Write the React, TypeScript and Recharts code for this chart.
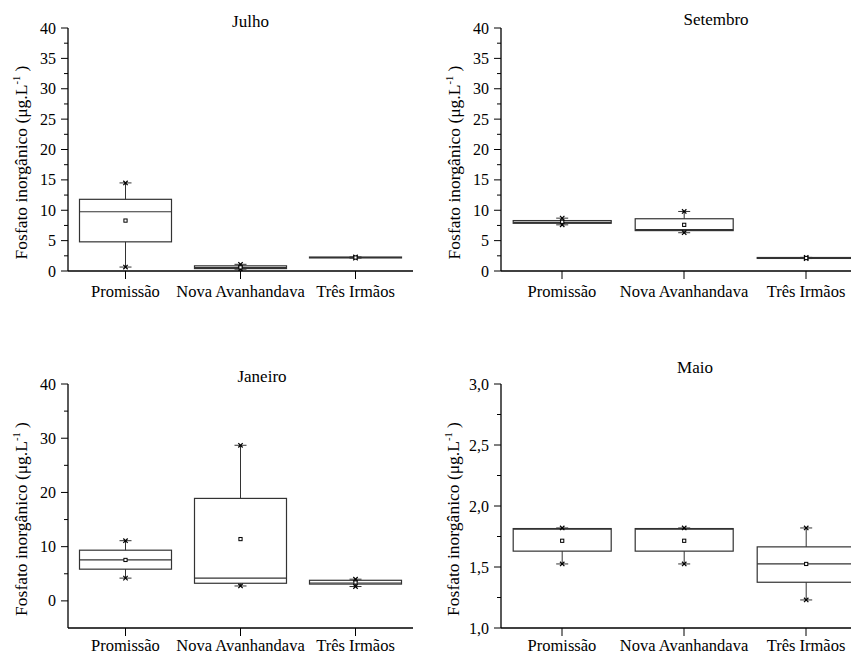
import { ComposedChart, Bar, XAxis, YAxis, Label } from 'recharts'

const FONT = 'Liberation Serif'
const INK = '#000'
const BOX = '#333'

const sites = ['Promissão', 'Nova Avanhandava', 'Três Irmãos']

// Julho
const julhoMin = [0.65, 0.3, 2.12]
const julhoQ1 = [4.8, 0.4, 2.15]
const julhoMedian = [9.75, 0.55, 2.22]
const julhoQ3 = [11.8, 0.85, 2.3]
const julhoMax = [14.5, 1.1, 2.32]
const julhoMean = [8.3, 0.6, 2.22]

// Setembro
const setembroMin = [7.6, 6.3, 2.05]
const setembroQ1 = [7.85, 6.65, 2.07]
const setembroMedian = [8.0, 6.8, 2.14]
const setembroQ3 = [8.3, 8.6, 2.22]
const setembroMax = [8.7, 9.8, 2.24]
const setembroMean = [8.1, 7.6, 2.14]

// Janeiro
const janeiroMin = [4.2, 2.75, 2.65]
const janeiroQ1 = [5.85, 3.25, 3.1]
const janeiroMedian = [7.55, 4.2, 3.3]
const janeiroQ3 = [9.35, 18.9, 3.8]
const janeiroMax = [11.1, 28.7, 4.0]
const janeiroMean = [7.55, 11.4, 3.4]

// Maio
const maioMin = [1.525, 1.525, 1.23]
const maioQ1 = [1.63, 1.63, 1.375]
const maioMedian = [1.81, 1.81, 1.525]
const maioQ3 = [1.815, 1.815, 1.665]
const maioMax = [1.82, 1.82, 1.82]
const maioMean = [1.715, 1.715, 1.525]

const ticks40 = [0, 2.5, 5, 7.5, 10, 12.5, 15, 17.5, 20, 22.5, 25, 27.5, 30, 32.5, 35, 37.5, 40]
const ticksJan = [0, 5, 10, 15, 20, 25, 30, 35, 40]
const ticksMaio = [1, 1.25, 1.5, 1.75, 2, 2.25, 2.5, 2.75, 3]

function rows(min: number[], q1: number[], median: number[], q3: number[], max: number[], mean: number[]) {
  return sites.map((site, i) => ({
    site,
    range: [min[i], max[i]],
    min: min[i],
    q1: q1[i],
    median: median[i],
    q3: q3[i],
    max: max[i],
    mean: mean[i],
  }))
}

function BoxShape(props: any) {
  const { x, y, width, height, payload } = props
  const { min, q1, median, q3, max, mean } = payload
  const span = max - min
  const py = (v: number) => (span === 0 ? y : y + ((max - v) / span) * height)
  const cx = x + width / 2
  const cap = 6
  const m = 2.2
  const marker = (yy: number) => (
    <g>
      <line x1={cx - cap} x2={cx + cap} y1={yy} y2={yy} stroke={BOX} strokeWidth={1} />
      <line x1={cx - m} x2={cx + m} y1={yy - m} y2={yy + m} stroke={INK} strokeWidth={1.2} />
      <line x1={cx - m} x2={cx + m} y1={yy + m} y2={yy - m} stroke={INK} strokeWidth={1.2} />
    </g>
  )
  return (
    <g>
      <line x1={cx} x2={cx} y1={py(max)} y2={py(q3)} stroke={BOX} strokeWidth={1} />
      <line x1={cx} x2={cx} y1={py(q1)} y2={py(min)} stroke={BOX} strokeWidth={1} />
      <rect x={x} y={py(q3)} width={width} height={Math.max(py(q1) - py(q3), 0)} fill="none" stroke={BOX} strokeWidth={1.2} />
      <line x1={x} x2={x + width} y1={py(median)} y2={py(median)} stroke={BOX} strokeWidth={1.2} />
      {marker(py(max))}
      {marker(py(min))}
      <rect x={cx - 1.6} y={py(mean) - 1.6} width={3.2} height={3.2} fill="#fff" stroke={INK} strokeWidth={1} />
    </g>
  )
}

function YTick(props: any) {
  const { x, y, payload, step, fmt } = props
  const v = payload.value
  const isMajor = Math.abs(v / step - Math.round(v / step)) < 1e-6
  return (
    <g>
      <line x1={x} x2={x - (isMajor ? 7 : 4)} y1={y} y2={y} stroke={INK} strokeWidth={1} />
      {isMajor && (
        <text x={x - 12} y={y} dy="0.35em" textAnchor="end" fontSize={16} style={{ fontFamily: FONT }} fill={INK}>
          {fmt(v)}
        </text>
      )}
    </g>
  )
}

function XTick(props: any) {
  const { x, y, payload } = props
  return (
    <text x={x} y={y} dy="0.71em" textAnchor="middle" fontSize={16.5} style={{ fontFamily: FONT }} fill={INK}>
      {payload.value}
    </text>
  )
}

function YLabel({ viewBox, labelX }: any) {
  const cy = viewBox.y + viewBox.height / 2 + 13
  return (
    <text
      x={labelX}
      y={cy}
      transform={`rotate(-90, ${labelX}, ${cy})`}
      textAnchor="middle"
      fontSize={17.5}
      style={{ fontFamily: FONT }}
      fill={INK}
    >
      Fosfato inorgânico (μg.L
      <tspan dy={-7} fontSize={10.5}>-1</tspan>
      <tspan dy={7}> )</tspan>
    </text>
  )
}

interface PanelProps {
  data: any[]
  domain: [number, number]
  ticks: number[]
  step: number
  fmt: (v: number) => string
  left: number
  top: number
  width: number
  height: number
  margin: { top: number; right: number; bottom: number; left: number }
  yWidth: number
  xHeight: number
  xGap: number
  labelX: number
}

function Panel(p: PanelProps) {
  return (
    <div style={{ position: 'absolute', left: p.left, top: p.top }}>
      <ComposedChart width={p.width} height={p.height} data={p.data} margin={p.margin} barCategoryGap="10%">
        <XAxis
          dataKey="site"
          interval={0}
          height={p.xHeight}
          tickSize={8}
          tickMargin={p.xGap}
          axisLine={{ stroke: INK, strokeWidth: 1.3 }}
          tickLine={{ stroke: INK, strokeWidth: 1 }}
          tick={<XTick />}
        />
        <YAxis
          type="number"
          domain={p.domain}
          ticks={p.ticks}
          interval={0}
          width={p.yWidth}
          allowDataOverflow
          tickSize={0}
          tickMargin={0}
          tickLine={false}
          axisLine={{ stroke: INK, strokeWidth: 1.3 }}
          tick={<YTick step={p.step} fmt={p.fmt} />}
          label={<Label content={(lp: any) => <YLabel viewBox={lp.viewBox} labelX={p.labelX} />} />}
        />
        <Bar dataKey="range" shape={<BoxShape />} isAnimationActive={false} />
      </ComposedChart>
    </div>
  )
}

const intFmt = (v: number) => String(v)
const commaFmt = (v: number) => v.toFixed(1).replace('.', ',')

const titles = [
  { text: 'Julho', x: 250.5, y: 26.5 },
  { text: 'Setembro', x: 716, y: 24.5 },
  { text: 'Janeiro', x: 262, y: 382 },
  { text: 'Maio', x: 695, y: 373 },
]

export default function App() {
  return (
    <div
      style={{
        position: 'absolute',
        left: 0,
        top: 0,
        width: 851,
        height: 656,
        overflow: 'hidden',
        background: '#fff',
        fontFamily: FONT,
      }}
    >
      <Panel
        data={rows(julhoMin, julhoQ1, julhoMedian, julhoQ3, julhoMax, julhoMean)}
        domain={[0, 40]}
        ticks={ticks40}
        step={5}
        fmt={intFmt}
        left={0}
        top={0}
        width={425}
        height={310}
        margin={{ top: 28, right: 12, bottom: 9, left: 0 }}
        yWidth={68}
        xHeight={30}
        xGap={6}
        labelX={27}
      />
      <Panel
        data={rows(setembroMin, setembroQ1, setembroMedian, setembroQ3, setembroMax, setembroMean)}
        domain={[0, 40]}
        ticks={ticks40}
        step={5}
        fmt={intFmt}
        left={425}
        top={0}
        width={445}
        height={310}
        margin={{ top: 28, right: 3, bottom: 9, left: 0 }}
        yWidth={76}
        xHeight={30}
        xGap={6}
        labelX={35}
      />
      <Panel
        data={rows(janeiroMin, janeiroQ1, janeiroMedian, janeiroQ3, janeiroMax, janeiroMean)}
        domain={[-5, 40]}
        ticks={ticksJan}
        step={10}
        fmt={intFmt}
        left={0}
        top={330}
        width={425}
        height={326}
        margin={{ top: 54, right: 12, bottom: 0, left: 0 }}
        yWidth={68}
        xHeight={28}
        xGap={3}
        labelX={27}
      />
      <Panel
        data={rows(maioMin, maioQ1, maioMedian, maioQ3, maioMax, maioMean)}
        domain={[1, 3]}
        ticks={ticksMaio}
        step={0.5}
        fmt={commaFmt}
        left={425}
        top={330}
        width={445}
        height={326}
        margin={{ top: 54, right: 3, bottom: 0, left: 0 }}
        yWidth={76}
        xHeight={28}
        xGap={3}
        labelX={34}
      />
      <svg width={851} height={656} style={{ position: 'absolute', left: 0, top: 0, pointerEvents: 'none' }}>
        {titles.map((t) => (
          <text key={t.text} x={t.x} y={t.y} textAnchor="middle" fontSize={17} style={{ fontFamily: FONT }} fill={INK}>
            {t.text}
          </text>
        ))}
      </svg>
    </div>
  )
}
